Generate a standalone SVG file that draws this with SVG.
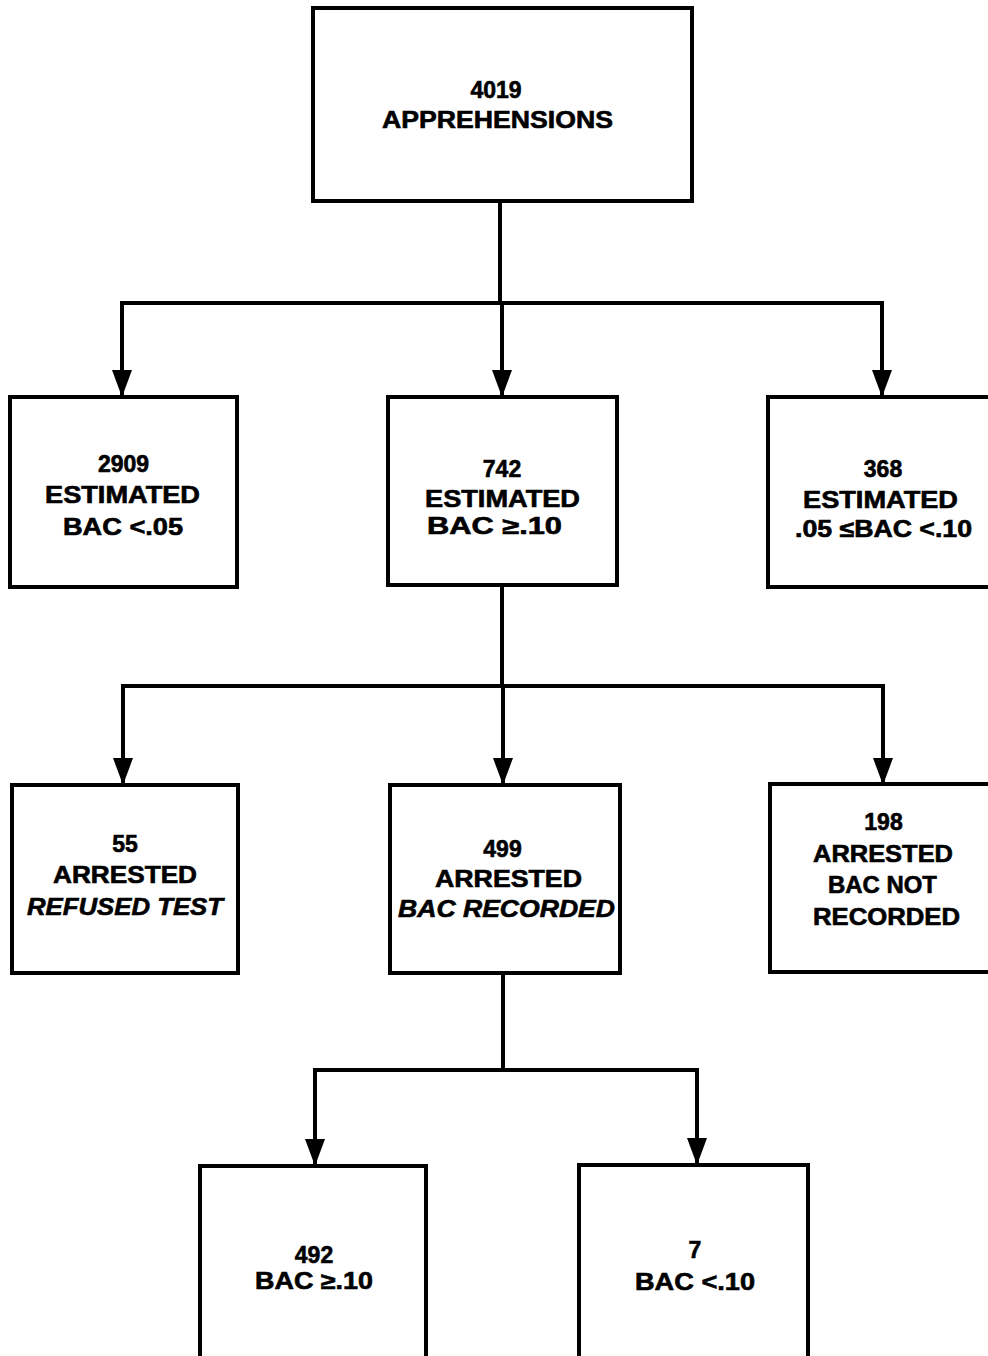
<svg xmlns="http://www.w3.org/2000/svg" width="988" height="1356" viewBox="0 0 988 1356">
<style>
.box{fill:#fff;stroke:#000;stroke-width:4}
.ln{fill:none;stroke:#000;stroke-width:4}
text{font-family:"Liberation Sans",Arial,sans-serif;font-weight:bold;font-size:23px;fill:#000;stroke:#000;stroke-width:0.6;text-anchor:middle}
.it{font-style:italic}
</style>
<defs>
<marker id="ah" viewBox="0 0 27 20" refX="27" refY="10" markerWidth="27" markerHeight="20" markerUnits="userSpaceOnUse" orient="auto">
<path d="M0,0 L27,10 L0,20 z" fill="#000"/>
</marker>
</defs>
<rect width="988" height="1356" fill="#fff"/>
<g id="connectors">
<path class="ln" d="M500,201 V303"/>
<path class="ln" d="M122,303 H882"/>
<path class="ln" d="M122,301 V397" marker-end="url(#ah)"/>
<path class="ln" d="M502,303 V397" marker-end="url(#ah)"/>
<path class="ln" d="M882,301 V397" marker-end="url(#ah)"/>
<path class="ln" d="M502,585 V686"/>
<path class="ln" d="M122,686 H883"/>
<path class="ln" d="M123,684 V785" marker-end="url(#ah)"/>
<path class="ln" d="M503,686 V785" marker-end="url(#ah)"/>
<path class="ln" d="M883,684 V785" marker-end="url(#ah)"/>
<path class="ln" d="M503,973 V1070"/>
<path class="ln" d="M315,1070 H697"/>
<path class="ln" d="M315,1068 V1166" marker-end="url(#ah)"/>
<path class="ln" d="M697,1068 V1165" marker-end="url(#ah)"/>
</g>
<g id="n-apprehensions">
<rect class="box" x="313" y="8" width="379" height="193"/>
<text x="496" y="98">4019</text>
<text x="497.5" y="128" textLength="231" lengthAdjust="spacingAndGlyphs">APPREHENSIONS</text>
</g>
<g id="n-bac-lt-05">
<rect class="box" x="10" y="397" width="227" height="190"/>
<text x="123.5" y="472">2909</text>
<text x="122.5" y="503" textLength="155" lengthAdjust="spacingAndGlyphs">ESTIMATED</text>
<text x="123" y="535" textLength="120" lengthAdjust="spacingAndGlyphs">BAC &lt;.05</text>
</g>
<g id="n-bac-ge-10">
<rect class="box" x="388" y="397" width="229" height="188"/>
<text x="502" y="477">742</text>
<text x="502.5" y="507" textLength="155" lengthAdjust="spacingAndGlyphs">ESTIMATED</text>
<text x="494.5" y="534" textLength="135" lengthAdjust="spacingAndGlyphs">BAC ≥.10</text>
</g>
<g id="n-bac-05-10">
<rect class="box" x="768" y="397" width="240" height="190"/>
<text x="883" y="477">368</text>
<text x="880.5" y="508" textLength="155" lengthAdjust="spacingAndGlyphs">ESTIMATED</text>
<text x="883.5" y="537" textLength="177" lengthAdjust="spacingAndGlyphs">.05 ≤BAC &lt;.10</text>
</g>
<g id="n-refused">
<rect class="box" x="12" y="785" width="226" height="188"/>
<text x="125" y="852">55</text>
<text x="125" y="883" textLength="144" lengthAdjust="spacingAndGlyphs">ARRESTED</text>
<text class="it" x="125" y="915" textLength="196" lengthAdjust="spacingAndGlyphs">REFUSED TEST</text>
</g>
<g id="n-recorded">
<rect class="box" x="390" y="785" width="230" height="188"/>
<text x="502.5" y="857">499</text>
<text x="508.5" y="887" textLength="147" lengthAdjust="spacingAndGlyphs">ARRESTED</text>
<text class="it" x="506.5" y="917" textLength="217" lengthAdjust="spacingAndGlyphs">BAC RECORDED</text>
</g>
<g id="n-not-recorded">
<rect class="box" x="770" y="784" width="240" height="188"/>
<text x="883.5" y="830">198</text>
<text x="883" y="862" textLength="140" lengthAdjust="spacingAndGlyphs">ARRESTED</text>
<text x="882.5" y="893" textLength="109" lengthAdjust="spacingAndGlyphs">BAC NOT</text>
<text x="886.5" y="925" textLength="147" lengthAdjust="spacingAndGlyphs">RECORDED</text>
</g>
<g id="n-492">
<rect class="box" x="200" y="1166" width="226" height="220"/>
<text x="314" y="1263">492</text>
<text x="314" y="1289" textLength="118" lengthAdjust="spacingAndGlyphs">BAC ≥.10</text>
</g>
<g id="n-7">
<rect class="box" x="579" y="1165" width="229" height="220"/>
<text x="695" y="1258">7</text>
<text x="695" y="1290" textLength="120" lengthAdjust="spacingAndGlyphs">BAC &lt;.10</text>
</g>
</svg>
